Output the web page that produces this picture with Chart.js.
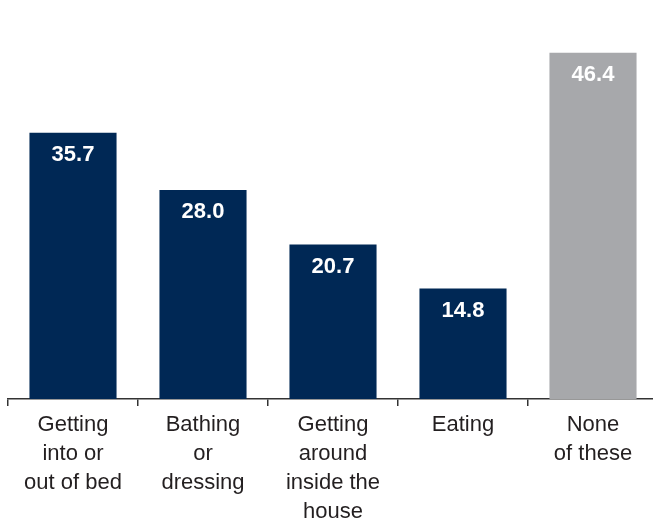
<!DOCTYPE html>
<html>
<head>
<meta charset="utf-8">
<script src="https://cdn.jsdelivr.net/npm/chart.js@4/dist/chart.umd.min.js"></script>
<style>
  html, body { margin: 0; padding: 0; background: #fff; overflow: hidden; }
  #wrap { position: relative; width: 664px; height: 531px; }
</style>
</head>
<body>
<div id="wrap"><canvas id="chart"></canvas></div>
<script>
const categories = [
  ['Getting', 'into or', 'out of bed'],
  ['Bathing', 'or', 'dressing'],
  ['Getting', 'around', 'inside the', 'house'],
  ['Eating'],
  ['None', 'of these']
];
const values = [35.7, 28.0, 20.7, 14.8, 46.4];
const barColors = ['#002855', '#002855', '#002855', '#002855', '#a7a8ab'];

const FONT = '"Liberation Sans", Arial, sans-serif';

// white value text just inside the top of each bar
const valueLabels = {
  id: 'valueLabels',
  afterDatasetsDraw(chart) {
    const ctx = chart.ctx;
    const meta = chart.getDatasetMeta(0);
    ctx.save();
    ctx.font = 'bold 22px ' + FONT;
    ctx.fillStyle = '#ffffff';
    ctx.textAlign = 'center';
    ctx.textBaseline = 'middle';
    meta.data.forEach((bar, i) => {
      ctx.fillText(values[i].toFixed(1), bar.x, bar.y + 22);
    });
    ctx.restore();
  }
};

new Chart(document.getElementById('chart'), {
  type: 'bar',
  data: {
    labels: categories,
    datasets: [{
      data: values,
      backgroundColor: barColors,
      barPercentage: 0.67,
      categoryPercentage: 1
    }]
  },
  options: {
    responsive: true,
    maintainAspectRatio: false,
    animation: false,
    layout: { padding: { top: 26, left: 8, right: 6, bottom: 0 } },
    plugins: { legend: { display: false }, tooltip: { enabled: false } },
    scales: {
      y: { display: false, min: 0, max: 50 },
      x: {
        border: { display: true, color: '#333333', width: 1.5 },
        grid: { drawOnChartArea: false, drawTicks: true, tickLength: 7, color: '#333333', lineWidth: 1.5 },
        ticks: {
          color: '#231f20',
          padding: 4.5,
          maxRotation: 0,
          autoSkip: false,
          font: { family: FONT, size: 22, lineHeight: 29 / 22 }
        }
      }
    }
  },
  plugins: [valueLabels]
});
</script>
</body>
</html>
